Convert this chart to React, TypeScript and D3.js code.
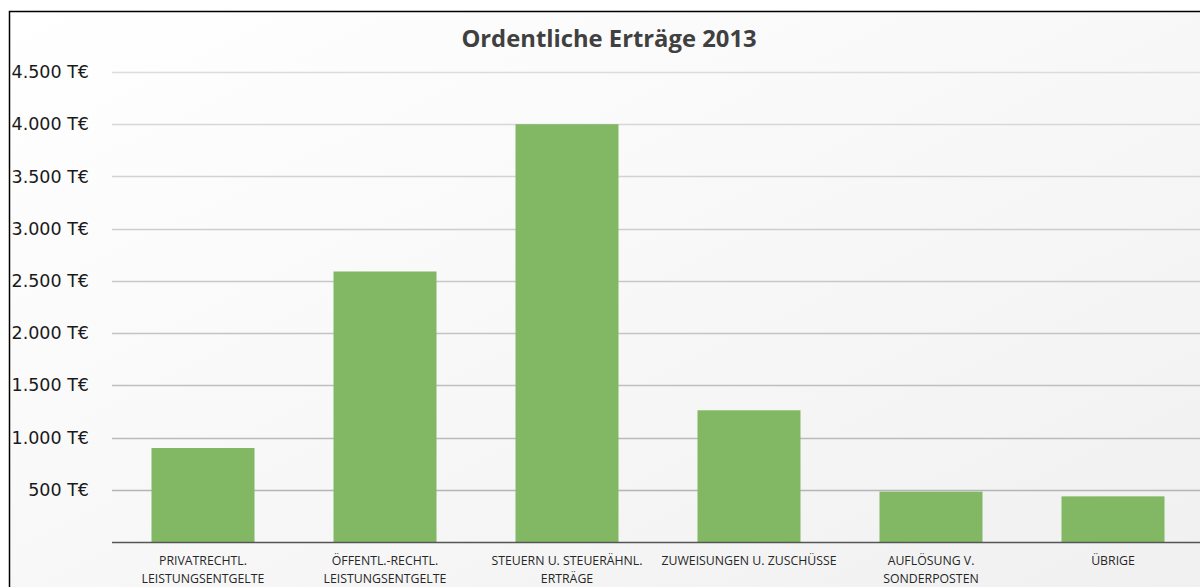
import { useRef, useEffect } from 'react';
import * as d3 from 'd3';

const categories: string[][] = [
  ['PRIVATRECHTL.', 'LEISTUNGSENTGELTE'],
  ['ÖFFENTL.-RECHTL.', 'LEISTUNGSENTGELTE'],
  ['STEUERN U. STEUERÄHNL.', 'ERTRÄGE'],
  ['ZUWEISUNGEN U. ZUSCHÜSSE'],
  ['AUFLÖSUNG V.', 'SONDERPOSTEN'],
  ['ÜBRIGE'],
];
const values = [900, 2590, 4000, 1261, 482, 437];
const tickValues = [500, 1000, 1500, 2000, 2500, 3000, 3500, 4000, 4500];
const title = 'Ordentliche Erträge 2013';

const W = 1200;
const H = 587;

export default function App() {
  const svgRef = useRef<SVGSVGElement>(null);

  useEffect(() => {
    document.body.style.margin = '0';
    document.body.style.overflow = 'hidden';
    if (!svgRef.current) return;
    const svg = d3.select(svgRef.current);
    svg.selectAll('*').remove();

    const defs = svg.append('defs');
    const grad = defs.append('linearGradient')
      .attr('id', 'bg')
      .attr('x1', '0').attr('y1', '0').attr('x2', '1').attr('y2', '1');
    grad.append('stop').attr('offset', '0%').attr('stop-color', '#ffffff');
    grad.append('stop').attr('offset', '35%').attr('stop-color', '#fafafa');
    grad.append('stop').attr('offset', '100%').attr('stop-color', '#f0f0f0');

    svg.append('rect').attr('width', W).attr('height', H).attr('fill', '#fff');
    svg.append('rect')
      .attr('x', 9).attr('y', 11)
      .attr('width', W).attr('height', H)
      .attr('fill', 'url(#bg)');
    // border only on top and left (the rest is cropped)
    svg.append('path')
      .attr('d', `M9.5,${H} V11.5 H${W}`)
      .attr('fill', 'none')
      .attr('stroke', '#000')
      .attr('stroke-width', 1.5);

    const x = d3.scaleBand<number>()
      .domain(d3.range(categories.length))
      .range([112, 1204])
      .paddingInner(0.434)
      .paddingOuter(0.217);

    const y = d3.scaleLinear().domain([0, 4500]).range([542, 72]);

    // gridlines
    svg.append('g')
      .selectAll('line')
      .data(tickValues)
      .join('line')
      .attr('x1', 112).attr('x2', W)
      .attr('y1', d => Math.round(y(d)) + 0.5)
      .attr('y2', d => Math.round(y(d)) + 0.5)
      .attr('stroke', d => d3.interpolateRgb('#b0b0b0', '#dcdcdc')(d / 4500))
      .attr('stroke-width', 1.3);

    // tick labels
    const fmt = (v: number) => d3.format(',')(v).replace(/,/g, '.') + ' T€';
    svg.append('g')
      .selectAll('text')
      .data(tickValues)
      .join('text')
      .attr('x', 89)
      .attr('y', d => y(d))
      .attr('dy', '0.35em')
      .attr('text-anchor', 'end')
      .attr('font-family', 'DejaVu Sans, Verdana, sans-serif')
      .attr('font-size', 17.5)
      .attr('fill', '#1a1a1a')
      .text(fmt);

    // bars
    svg.append('g')
      .selectAll('rect')
      .data(values)
      .join('rect')
      .attr('x', (_, i) => x(i)!)
      .attr('y', d => y(d))
      .attr('width', x.bandwidth())
      .attr('height', d => y(0) - y(d))
      .attr('fill', '#82b864');

    // axis line
    svg.append('line')
      .attr('x1', 112).attr('x2', W)
      .attr('y1', 542.5).attr('y2', 542.5)
      .attr('stroke', '#555')
      .attr('stroke-width', 1.3);

    // category labels
    const lab = svg.append('g')
      .selectAll('text')
      .data(categories)
      .join('text')
      .attr('text-anchor', 'middle')
      .attr('font-family', 'Open Sans, sans-serif')
      .attr('font-size', 12.3)
      .attr('fill', '#262626');
    lab.each(function (lines, i) {
      const t = d3.select(this);
      lines.forEach((ln, j) => {
        t.append('tspan')
          .attr('x', x(i)! + x.bandwidth() / 2)
          .attr('y', 565 + j * 18)
          .text(ln);
      });
    });

    // title
    svg.append('text')
      .attr('x', 609)
      .attr('y', 47)
      .attr('text-anchor', 'middle')
      .attr('font-family', 'Open Sans, sans-serif')
      .attr('font-weight', 'bold')
      .attr('font-size', 23.8)
      .attr('fill', '#404040')
      .text(title);
  }, []);

  return (
    <svg
      ref={svgRef}
      width={W}
      height={H}
      style={{ display: 'block' }}
    />
  );
}
